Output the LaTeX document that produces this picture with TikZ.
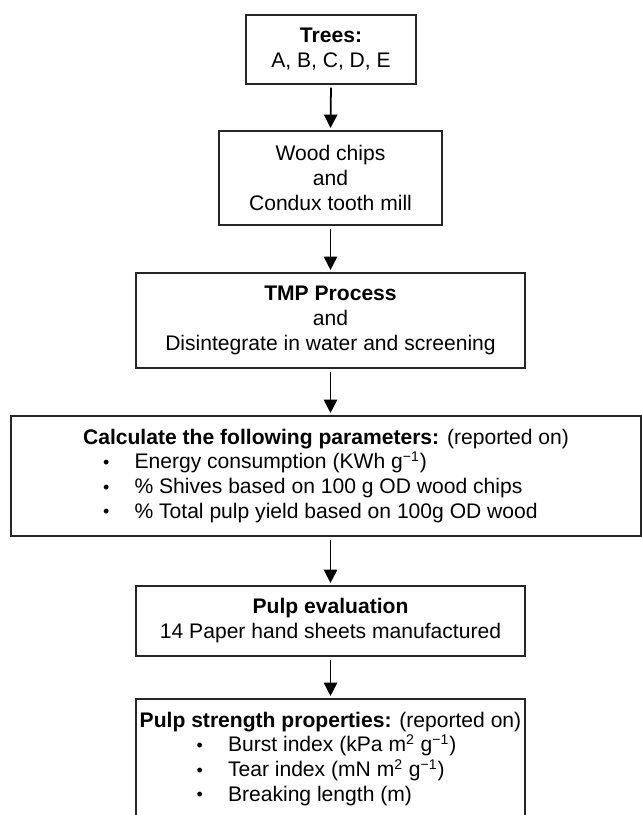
\documentclass[tikz,border=0pt]{standalone}
\usepackage{fontspec}
\setmainfont{Liberation Sans}
\usetikzlibrary{arrows.meta}

% one bullet line, left aligned inside a box of the given width
\newcommand{\smallbullet}{\raisebox{0.08ex}{\scalebox{0.85}{\textbullet}}}
\newcommand{\bulletrow}[3]{\makebox[#1][l]{\hspace*{#2}\makebox[0.63cm][l]{\smallbullet}#3}}
\newcommand{\inv}{\textsuperscript{\textminus1}}

\begin{document}
\begin{tikzpicture}[
  x=0.02cm, y=-0.02cm,
  stage/.style={rectangle,draw=black!85,line width=0.65pt,inner sep=0pt,align=center,
    font=\fontsize{12}{14.2}\selectfont},
  flow/.style={-{Triangle[length=7.6pt,width=7.6pt]},line width=1pt,
    shorten <=0.06cm,shorten >=0.05cm}
]

\clip (0,0) rectangle (642,815);
\fill[white] (0,0) rectangle (642,815);

\node[stage,minimum width=3.4cm,minimum height=1.38cm] (trees) at (331,49.5)
  {\textbf{Trees:}\\A, B, C, D, E};
\node[stage,minimum width=4.46cm,minimum height=1.88cm] (chips) at (330.5,178)
  {Wood chips\\and\\Condux tooth mill};
\node[stage,minimum width=7.78cm,minimum height=1.9cm] (tmp) at (330.5,320.5)
  {\textbf{TMP Process}\\and\\Disintegrate in water and screening};
\node[stage,minimum width=12.6cm,minimum height=2.4cm] (calc) at (326,476)
  {\textbf{Calculate the following parameters:} (reported on)\\
   \bulletrow{12.6cm}{1.84cm}{Energy consumption (KWh g\inv)}\\
   \bulletrow{12.6cm}{1.84cm}{\% Shives based on 100 g OD wood chips}\\
   \bulletrow{12.6cm}{1.84cm}{\% Total pulp yield based on 100g OD wood}};
\node[stage,minimum width=7.78cm,minimum height=1.4cm] (eval) at (330.5,621)
  {\textbf{Pulp evaluation}\\14 Paper hand sheets manufactured};
\node[stage,minimum width=7.78cm,minimum height=2.4cm] (strength) at (330.5,759)
  {\textbf{Pulp strength properties:} (reported on)\\
   \bulletrow{7.78cm}{1.21cm}{Burst index (kPa m\textsuperscript{2} g\inv)}\\
   \bulletrow{7.78cm}{1.21cm}{Tear index (mN m\textsuperscript{2} g\inv)}\\
   \bulletrow{7.78cm}{1.21cm}{Breaking length (m)}};

\draw[flow] (trees.south) -- (chips.north);
\draw[flow] (chips.south) -- (tmp.north);
\draw[flow] (tmp.south) -- (tmp.south |- calc.north);
\draw[flow] (eval.north |- calc.south) -- (eval.north);
\draw[flow] (eval.south) -- (strength.north);

\end{tikzpicture}
\end{document}
